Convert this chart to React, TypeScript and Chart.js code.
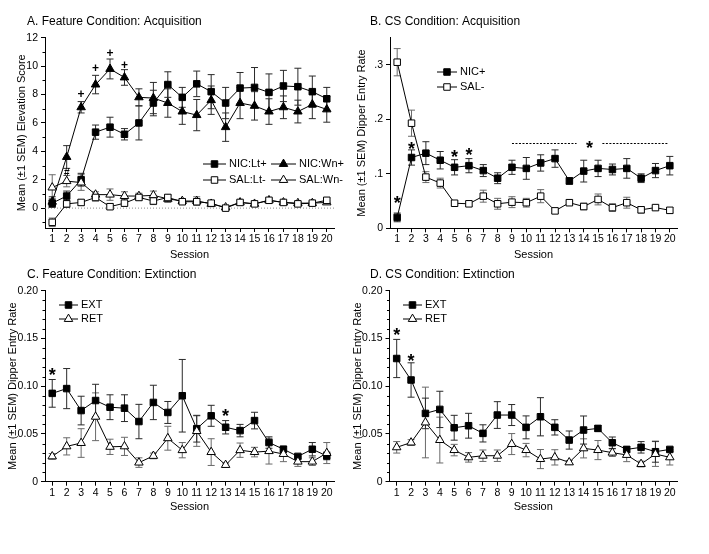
import React, { useEffect, useRef } from "react";
import { Chart, registerables } from "chart.js";

Chart.register(...registerables);

// ---------- shared ----------
const SESSIONS = [1, 2, 3, 4, 5, 6, 7, 8, 9, 10, 11, 12, 13, 14, 15, 16, 17, 18, 19, 20];
const X_TICK_LABELS = ["1", "2", "3", "4", "5", "6", "7", "8", "9", "10", "11", "12", "13", "14", "15", "16", "17", "18", "19", "20"];

// ---------- Panel A: Feature Condition: Acquisition ----------
const A_NIC_LT = [0.35, 0.85, 2.0, 5.35, 5.7, 5.2, 6.0, 7.4, 8.7, 7.8, 8.75, 8.2, 7.4, 8.45, 8.5, 8.15, 8.6, 8.55, 8.2, 7.7];
const A_NIC_LT_SEM = [0.3, 0.35, 0.45, 0.5, 0.7, 0.4, 1.2, 0.9, 0.9, 0.7, 0.9, 1.2, 1.1, 1.1, 1.4, 1.3, 1.1, 1.3, 1.1, 0.8];
const A_NIC_WN = [0.45, 3.6, 7.1, 8.7, 9.8, 9.2, 7.8, 7.75, 7.4, 6.8, 6.55, 7.6, 5.7, 7.4, 7.2, 6.8, 7.1, 6.8, 7.3, 6.95];
const A_NIC_WN_SEM = [0.35, 0.8, 0.4, 0.65, 0.7, 0.55, 0.6, 1.1, 1.0, 0.9, 1.1, 1.0, 1.0, 1.1, 1.0, 0.9, 0.8, 0.8, 1.0, 0.9];
const A_SAL_LT = [-1.0, 0.3, 0.4, 0.75, 0.1, 0.35, 0.75, 0.5, 0.75, 0.45, 0.45, 0.35, 0.0, 0.4, 0.3, 0.55, 0.4, 0.3, 0.35, 0.55];
const A_SAL_LT_SEM = [0.3, 0.25, 0.2, 0.25, 0.2, 0.2, 0.2, 0.25, 0.2, 0.15, 0.2, 0.15, 0.1, 0.15, 0.1, 0.1, 0.1, 0.1, 0.1, 0.15];
const A_SAL_WN = [1.45, 1.9, 1.8, 0.95, 0.95, 0.85, 0.85, 0.9, 0.65, 0.5, 0.5, 0.3, 0.05, 0.4, 0.3, 0.55, 0.4, 0.35, 0.35, 0.4];
const A_SAL_WN_SEM = [0.9, 0.4, 0.55, 0.2, 0.4, 0.3, 0.2, 0.3, 0.25, 0.15, 0.3, 0.2, 0.1, 0.1, 0.1, 0.1, 0.1, 0.1, 0.1, 0.1];
const A_Y_TICKS = [0, 2, 4, 6, 8, 10, 12];
const A_Y_LABELS = ["0", "2", "4", "6", "8", "10", "12"];
const A_Y_MINOR = [-1, 1, 3, 5, 7, 9, 11];
const A_MARKS = [
  { x: 2, y: 2.5, text: "#" },
  { x: 3, y: 8.0, text: "+" },
  { x: 4, y: 9.85, text: "+" },
  { x: 5, y: 10.9, text: "+" },
  { x: 6, y: 10.1, text: "+" },
];

// ---------- Panel B: CS Condition: Acquisition ----------
const B_NIC = [0.02, 0.13, 0.138, 0.125, 0.112, 0.115, 0.106, 0.092, 0.112, 0.11, 0.12, 0.128, 0.087, 0.105, 0.11, 0.108, 0.11, 0.092, 0.106, 0.115];
const B_NIC_SEM = [0.008, 0.014, 0.021, 0.016, 0.014, 0.013, 0.011, 0.01, 0.013, 0.02, 0.015, 0.016, 0.006, 0.02, 0.015, 0.01, 0.018, 0.008, 0.013, 0.017];
const B_SAL = [0.305, 0.193, 0.094, 0.083, 0.046, 0.045, 0.059, 0.045, 0.048, 0.047, 0.059, 0.032, 0.047, 0.04, 0.053, 0.038, 0.047, 0.034, 0.038, 0.033];
const B_SAL_SEM = [0.025, 0.024, 0.01, 0.009, 0.005, 0.004, 0.011, 0.01, 0.01, 0.008, 0.012, 0.004, 0.005, 0.006, 0.01, 0.007, 0.01, 0.006, 0.004, 0.005];
const B_Y_TICKS = [0, 0.1, 0.2, 0.3];
const B_Y_LABELS = ["0", ".1", ".2", ".3"];
const B_MARKS = [
  { x: 1, y: 0.054, text: "*" },
  { x: 2, y: 0.153, text: "*" },
  { x: 5, y: 0.139, text: "*" },
  { x: 6, y: 0.143, text: "*" },
  { x: 14.4, y: 0.156, text: "*" },
];
const B_DASHES = [
  { x1: 9, x2: 13.5, y: 0.157 },
  { x1: 15.3, x2: 19.9, y: 0.157 },
];

// ---------- Panel C: Feature Condition: Extinction ----------
const C_EXT = [0.0925, 0.0975, 0.0745, 0.085, 0.078, 0.077, 0.063, 0.083, 0.0725, 0.09, 0.0555, 0.069, 0.057, 0.0535, 0.064, 0.041, 0.034, 0.0265, 0.034, 0.027];
const C_EXT_SEM = [0.0145, 0.021, 0.015, 0.017, 0.013, 0.014, 0.018, 0.018, 0.0115, 0.038, 0.014, 0.011, 0.007, 0.0065, 0.0087, 0.006, 0.003, 0.002, 0.007, 0.004];
const C_RET = [0.0265, 0.037, 0.0405, 0.068, 0.0365, 0.037, 0.02, 0.027, 0.0455, 0.033, 0.053, 0.031, 0.0175, 0.033, 0.031, 0.032, 0.029, 0.021, 0.021, 0.03];
const C_RET_SEM = [0.003, 0.009, 0.015, 0.025, 0.008, 0.0095, 0.005, 0.003, 0.0125, 0.008, 0.016, 0.014, 0.002, 0.0075, 0.005, 0.0135, 0.008, 0.005, 0.004, 0.011];
const C_MARKS = [
  { x: 1, y: 0.116, text: "*" },
  { x: 13, y: 0.0733, text: "*" },
];

// ---------- Panel D: CS Condition: Extinction ----------
const D_EXT = [0.129, 0.1065, 0.0715, 0.0757, 0.0565, 0.0586, 0.0506, 0.0698, 0.0698, 0.0569, 0.068, 0.0569, 0.0436, 0.0541, 0.0558, 0.0408, 0.0338, 0.036, 0.0314, 0.0338];
const D_EXT_SEM = [0.02, 0.018, 0.016, 0.019, 0.013, 0.013, 0.009, 0.014, 0.011, 0.012, 0.02, 0.008, 0.0095, 0.0147, 0.003, 0.006, 0.003, 0.006, 0.011, 0.002];
const D_RET = [0.036, 0.041, 0.062, 0.0436, 0.0331, 0.0255, 0.0272, 0.0272, 0.0394, 0.0331, 0.0237, 0.0255, 0.0202, 0.0349, 0.0331, 0.0304, 0.028, 0.0185, 0.029, 0.0255];
const D_RET_SEM = [0.006, 0.003, 0.037, 0.024, 0.006, 0.005, 0.006, 0.006, 0.011, 0.007, 0.01, 0.008, 0.002, 0.01, 0.01, 0.004, 0.007, 0.003, 0.013, 0.008];
const D_MARKS = [
  { x: 1, y: 0.158, text: "*" },
  { x: 2, y: 0.1315, text: "*" },
];

const CD_Y_TICKS = [0, 0.05, 0.1, 0.15, 0.2];
const CD_Y_LABELS = ["0", "0.05", "0.10", "0.15", "0.20"];
const CD_Y_MINOR = [0.01, 0.02, 0.03, 0.04, 0.06, 0.07, 0.08, 0.09, 0.11, 0.12, 0.13, 0.14, 0.16, 0.17, 0.18, 0.19];

// ---------- styling ----------
const FONT = '"Liberation Sans", Arial, Helvetica, sans-serif';
const TICK_FONT = 10.5;
const AXIS_TITLE_FONT = 11;
const PANEL_TITLE_FONT = 12;
const LEGEND_FONT = 11;

type Shape = "rect" | "triangle";
type Series = { label: string; values: number[]; sem: number[]; shape: Shape; filled: boolean };
type LegendItem = { s: number; x1: number; x2: number; tx: number; y: number };
type Spec = {
  box: { left: number; top: number; width: number; height: number };
  area: { left: number; top: number; right: number; bottom: number };
  title: string;
  titleX: number;
  titleY: number;
  yTitle: string;
  yTitleX: number;
  xTitleY: number;
  yMin: number;
  yMax: number;
  yTicks: number[];
  yLabels: string[];
  yMinor: number[];
  series: Series[];
  marks: { x: number; y: number; text: string }[];
  dashes: { x1: number; x2: number; y: number }[];
  zeroLine: boolean;
  legend: LegendItem[];
};

const markerRadius = (shape: Shape) => (shape === "rect" ? 4.6 : 4.9);

function drawMarker(ctx: CanvasRenderingContext2D, shape: Shape, filled: boolean, x: number, y: number) {
  const r = markerRadius(shape);
  ctx.save();
  ctx.beginPath();
  if (shape === "rect") {
    const h = Math.SQRT1_2 * r;
    ctx.rect(x - h, y - h, 2 * h, 2 * h);
  } else {
    ctx.moveTo(x, y - r);
    ctx.lineTo(x + 0.866 * r, y + 0.5 * r);
    ctx.lineTo(x - 0.866 * r, y + 0.5 * r);
    ctx.closePath();
  }
  ctx.fillStyle = filled ? "#000" : "#fff";
  ctx.fill();
  ctx.lineWidth = 1;
  ctx.strokeStyle = "#000";
  ctx.stroke();
  ctx.restore();
}

function extrasPlugin(spec: Spec) {
  return {
    id: "panelExtras",
    beforeDatasetsDraw(chart: any) {
      const ctx: CanvasRenderingContext2D = chart.ctx;
      const xs = chart.scales.x;
      const ys = chart.scales.y;
      const ca = chart.chartArea;
      ctx.save();
      if (spec.zeroLine) {
        const y0 = ys.getPixelForValue(0);
        ctx.strokeStyle = "#8a8a8a";
        ctx.lineWidth = 1;
        ctx.setLineDash([1, 2]);
        ctx.beginPath();
        ctx.moveTo(ca.left, y0);
        ctx.lineTo(ca.right, y0);
        ctx.stroke();
        ctx.setLineDash([]);
      }
      // error bars
      spec.series.forEach((s) => {
        ctx.strokeStyle = s.filled ? "#2a2a2a" : "#6a6a6a";
        ctx.lineWidth = 1;
        s.values.forEach((v, i) => {
          const x = xs.getPixelForValue(SESSIONS[i]);
          const yl = ys.getPixelForValue(v - s.sem[i]);
          const yh = ys.getPixelForValue(v + s.sem[i]);
          ctx.beginPath();
          ctx.moveTo(x, yl);
          ctx.lineTo(x, yh);
          ctx.moveTo(x - 3.5, yl);
          ctx.lineTo(x + 3.5, yl);
          ctx.moveTo(x - 3.5, yh);
          ctx.lineTo(x + 3.5, yh);
          ctx.stroke();
        });
      });
      ctx.restore();
    },
    afterDraw(chart: any) {
      const ctx: CanvasRenderingContext2D = chart.ctx;
      const xs = chart.scales.x;
      const ys = chart.scales.y;
      const ca = chart.chartArea;
      const ox = spec.box.left;
      const oy = spec.box.top;
      ctx.save();
      // minor ticks
      ctx.strokeStyle = "#000";
      ctx.lineWidth = 1;
      spec.yMinor.forEach((v) => {
        const y = Math.round(ys.getPixelForValue(v)) + 0.5;
        ctx.beginPath();
        ctx.moveTo(ca.left - 2.5, y);
        ctx.lineTo(ca.left, y);
        ctx.stroke();
      });
      // panel title
      ctx.fillStyle = "#000";
      ctx.font = `${PANEL_TITLE_FONT}px ${FONT}`;
      ctx.textAlign = "left";
      ctx.textBaseline = "middle";
      ctx.fillText(spec.title, spec.titleX - ox, spec.titleY - oy);
      // dashed significance lines
      spec.dashes.forEach((d) => {
        const y = Math.round(ys.getPixelForValue(d.y)) + 0.5;
        ctx.setLineDash([2, 1.5]);
        ctx.beginPath();
        ctx.moveTo(xs.getPixelForValue(d.x1), y);
        ctx.lineTo(xs.getPixelForValue(d.x2), y);
        ctx.stroke();
        ctx.setLineDash([]);
      });
      // significance marks
      ctx.textAlign = "center";
      ctx.textBaseline = "alphabetic";
      spec.marks.forEach((m) => {
        const x = xs.getPixelForValue(m.x);
        const y = ys.getPixelForValue(m.y);
        let size = 18;
        let off = 0.58;
        if (m.text === "+") { size = 12; off = 0.33; }
        if (m.text === "#") { size = 10; off = 0.36; }
        ctx.font = `bold ${size}px ${FONT}`;
        ctx.fillText(m.text, x, y + off * size);
      });
      // legend
      ctx.font = `${LEGEND_FONT}px ${FONT}`;
      ctx.textAlign = "left";
      ctx.textBaseline = "middle";
      spec.legend.forEach((it) => {
        const s = spec.series[it.s];
        const y = it.y - oy;
        ctx.strokeStyle = "#000";
        ctx.lineWidth = 1;
        ctx.beginPath();
        ctx.moveTo(it.x1 - ox, y);
        ctx.lineTo(it.x2 - ox, y);
        ctx.stroke();
        drawMarker(ctx, s.shape, s.filled, (it.x1 + it.x2) / 2 - ox, y);
        ctx.fillStyle = "#000";
        ctx.fillText(s.label, it.tx - ox, y);
      });
      ctx.restore();
    },
  };
}

function buildConfig(spec: Spec): any {
  const { box, area } = spec;
  const yAxisWidth = area.left - box.left;
  const xAxisHeight = box.top + box.height - area.bottom;
  const lh = AXIS_TITLE_FONT * 1.2;
  const yTitlePad = spec.yTitleX - box.left - lh / 2;
  const xTitlePad = box.top + box.height - spec.xTitleY - lh / 2;
  return {
    type: "line",
    data: {
      datasets: spec.series.map((s) => ({
        label: s.label,
        data: SESSIONS.map((x, i) => ({ x, y: s.values[i] })),
        borderColor: "#000",
        borderWidth: 1,
        pointStyle: s.shape,
        pointRadius: markerRadius(s.shape),
        pointBackgroundColor: s.filled ? "#000" : "#fff",
        pointBorderColor: "#000",
        pointBorderWidth: 1,
        tension: 0,
        fill: false,
      })),
    },
    options: {
      responsive: false,
      animation: false,
      events: [],
      layout: {
        padding: { left: 0, top: area.top - box.top, right: box.left + box.width - area.right, bottom: 0 },
      },
      plugins: { legend: { display: false }, tooltip: { enabled: false }, title: { display: false } },
      scales: {
        x: {
          type: "linear",
          min: 0.5,
          max: 20.5,
          afterBuildTicks: (s: any) => {
            s.ticks = SESSIONS.map((v) => ({ value: v }));
          },
          afterFit: (s: any) => {
            s.height = xAxisHeight;
          },
          ticks: {
            autoSkip: false,
            maxRotation: 0,
            padding: 1,
            color: "#000",
            font: { family: FONT, size: TICK_FONT },
            callback: (_v: any, i: number) => X_TICK_LABELS[i],
          },
          grid: { display: true, drawOnChartArea: false, drawTicks: true, tickLength: 4, color: "#000", tickColor: "#000" },
          border: { display: true, color: "#000", width: 1 },
          title: {
            display: true,
            text: "Session",
            color: "#000",
            font: { family: FONT, size: AXIS_TITLE_FONT },
            padding: { top: 0, bottom: xTitlePad },
          },
        },
        y: {
          type: "linear",
          min: spec.yMin,
          max: spec.yMax,
          afterBuildTicks: (s: any) => {
            s.ticks = spec.yTicks.map((v) => ({ value: v }));
          },
          afterFit: (s: any) => {
            s.width = yAxisWidth;
          },
          ticks: {
            autoSkip: false,
            padding: 3,
            color: "#000",
            font: { family: FONT, size: TICK_FONT },
            callback: (_v: any, i: number) => spec.yLabels[i],
          },
          grid: { display: true, drawOnChartArea: false, drawTicks: true, tickLength: 4, color: "#000", tickColor: "#000" },
          border: { display: true, color: "#000", width: 1 },
          title: {
            display: true,
            text: spec.yTitle,
            color: "#000",
            font: { family: FONT, size: AXIS_TITLE_FONT },
            padding: { top: yTitlePad, bottom: 0 },
          },
        },
      },
    },
    plugins: [extrasPlugin(spec)],
  };
}

const SPECS: Spec[] = [
  {
    box: { left: 0, top: 0, width: 345, height: 262 },
    area: { left: 45, top: 37.7, right: 334, bottom: 228 },
    title: "A. Feature Condition: Acquisition",
    titleX: 27,
    titleY: 22,
    yTitle: "Mean (\u00b11 SEM) Elevation Score",
    yTitleX: 22,
    xTitleY: 255,
    yMin: -1.4,
    yMax: 12,
    yTicks: A_Y_TICKS,
    yLabels: A_Y_LABELS,
    yMinor: A_Y_MINOR,
    series: [
      { label: "SAL:Lt-", values: A_SAL_LT, sem: A_SAL_LT_SEM, shape: "rect", filled: false },
      { label: "SAL:Wn-", values: A_SAL_WN, sem: A_SAL_WN_SEM, shape: "triangle", filled: false },
      { label: "NIC:Wn+", values: A_NIC_WN, sem: A_NIC_WN_SEM, shape: "triangle", filled: true },
      { label: "NIC:Lt+", values: A_NIC_LT, sem: A_NIC_LT_SEM, shape: "rect", filled: true },
    ],
    marks: A_MARKS,
    dashes: [],
    zeroLine: true,
    legend: [
      { s: 3, x1: 203, x2: 226, tx: 229, y: 164 },
      { s: 0, x1: 203, x2: 226, tx: 229, y: 180 },
      { s: 2, x1: 271, x2: 296, tx: 299, y: 164 },
      { s: 1, x1: 271, x2: 296, tx: 299, y: 180 },
    ],
  },
  {
    box: { left: 345, top: 0, width: 364, height: 262 },
    area: { left: 390, top: 37.7, right: 677, bottom: 228.3 },
    title: "B. CS Condition: Acquisition",
    titleX: 370,
    titleY: 22,
    yTitle: "Mean (\u00b11 SEM) Dipper Entry Rate",
    yTitleX: 362,
    xTitleY: 255,
    yMin: 0,
    yMax: 0.35,
    yTicks: B_Y_TICKS,
    yLabels: B_Y_LABELS,
    yMinor: [],
    series: [
      { label: "SAL-", values: B_SAL, sem: B_SAL_SEM, shape: "rect", filled: false },
      { label: "NIC+", values: B_NIC, sem: B_NIC_SEM, shape: "rect", filled: true },
    ],
    marks: B_MARKS,
    dashes: B_DASHES,
    zeroLine: false,
    legend: [
      { s: 1, x1: 437, x2: 457, tx: 460, y: 72 },
      { s: 0, x1: 437, x2: 457, tx: 460, y: 87 },
    ],
  },
  {
    box: { left: 0, top: 262, width: 345, height: 254 },
    area: { left: 45, top: 290.7, right: 334, bottom: 481.7 },
    title: "C. Feature Condition: Extinction",
    titleX: 27,
    titleY: 274.7,
    yTitle: "Mean (\u00b11 SEM) Dipper Entry Rate",
    yTitleX: 13,
    xTitleY: 507.3,
    yMin: 0,
    yMax: 0.2,
    yTicks: CD_Y_TICKS,
    yLabels: CD_Y_LABELS,
    yMinor: CD_Y_MINOR,
    series: [
      { label: "RET", values: C_RET, sem: C_RET_SEM, shape: "triangle", filled: false },
      { label: "EXT", values: C_EXT, sem: C_EXT_SEM, shape: "rect", filled: true },
    ],
    marks: C_MARKS,
    dashes: [],
    zeroLine: false,
    legend: [
      { s: 1, x1: 59, x2: 78, tx: 81, y: 305 },
      { s: 0, x1: 59, x2: 78, tx: 81, y: 319 },
    ],
  },
  {
    box: { left: 345, top: 262, width: 364, height: 254 },
    area: { left: 389.5, top: 290.7, right: 677, bottom: 481.7 },
    title: "D. CS Condition: Extinction",
    titleX: 370,
    titleY: 274.5,
    yTitle: "Mean (\u00b11 SEM) Dipper Entry Rate",
    yTitleX: 358,
    xTitleY: 507.3,
    yMin: 0,
    yMax: 0.2,
    yTicks: CD_Y_TICKS,
    yLabels: CD_Y_LABELS,
    yMinor: CD_Y_MINOR,
    series: [
      { label: "RET", values: D_RET, sem: D_RET_SEM, shape: "triangle", filled: false },
      { label: "EXT", values: D_EXT, sem: D_EXT_SEM, shape: "rect", filled: true },
    ],
    marks: D_MARKS,
    dashes: [],
    zeroLine: false,
    legend: [
      { s: 1, x1: 403, x2: 422, tx: 425, y: 305 },
      { s: 0, x1: 403, x2: 422, tx: 425, y: 319 },
    ],
  },
];

function Panel({ spec }: { spec: Spec }) {
  const ref = useRef<HTMLCanvasElement>(null);
  useEffect(() => {
    if (!ref.current) return;
    const chart = new Chart(ref.current, buildConfig(spec));
    return () => chart.destroy();
  }, [spec]);
  return (
    <canvas
      ref={ref}
      width={spec.box.width}
      height={spec.box.height}
      style={{
        position: "absolute",
        left: spec.box.left,
        top: spec.box.top,
        width: spec.box.width,
        height: spec.box.height,
      }}
    />
  );
}

export default function App() {
  return (
    <div style={{ position: "absolute", left: 0, top: 0, width: 709, height: 554, background: "#fff", overflow: "hidden" }}>
      {SPECS.map((s, i) => (
        <Panel key={i} spec={s} />
      ))}
    </div>
  );
}
